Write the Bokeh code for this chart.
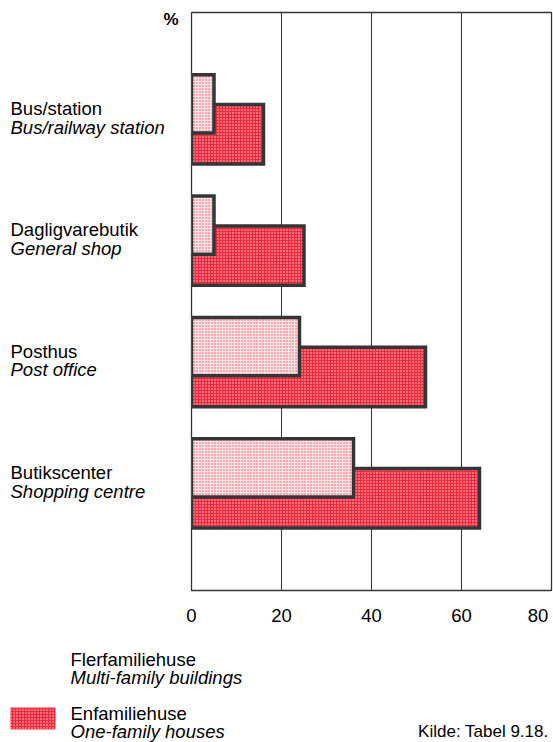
from bokeh.plotting import figure
from bokeh.layouts import column, row
from bokeh.models import Range1d, FixedTicker
from bokeh.core.properties import value
from bokeh.embed import file_html
from bokeh.resources import INLINE

# ---- data ----
categories_da = ["Bus/station", "Dagligvarebutik", "Posthus", "Butikscenter"]
categories_en = ["Bus/railway station", "General shop", "Post office", "Shopping centre"]
multi_family = [5, 5, 24, 36]     # Flerfamiliehuse
one_family = [16, 25, 52, 64]     # Enfamiliehuse
x_ticks = [0, 20, 40, 60, 80]
legend_da = ["Flerfamiliehuse", "Enfamiliehuse"]
legend_en = ["Multi-family buildings", "One-family houses"]
source_note = "Kilde: Tabel 9.18."
unit_label = "%"

# ---- layout constants ----
PX = 121.3            # pixels per category step
Y_TOP = 4.879         # data value at top of frame
Y_BOT = Y_TOP - 578 / PX
TOP_BORDER = 12
AXIS_H = 40
UPPER_H = 630
LEFT_W = 180
MAIN_W = 553 - LEFT_W
LOWER_H = 742 - UPPER_H
BL = 6.5              # baseline correction (px)

FONT = "Liberation Sans"
BORDER = "#353535"
DARK_FILL = "#ee2a3e"
DARK_DOT = "#ffd0d6"
LIGHT_FILL = "#fce4e6"
LIGHT_DOT = "#f0505e"

positions = [4 - i for i in range(len(categories_da))]
off = 15.2 / PX
dark_y = [v - off for v in positions]
light_y = [v + off for v in positions]


def panel(width, height, x_range, y_range, **borders):
    f = figure(width=width, height=height, output_backend="svg", toolbar_location=None,
               x_range=x_range, y_range=y_range, **borders)
    f.background_fill_color = "white"
    f.border_fill_color = "white"
    return f


# ---- main chart ----
p = panel(MAIN_W, UPPER_H, Range1d(0, 80), Range1d(Y_BOT, Y_TOP),
          min_border_left=11, min_border_right=2, min_border_top=TOP_BORDER,
          min_border_bottom=AXIS_H)
p.outline_line_color = BORDER
p.outline_line_width = 1.3

p.yaxis.visible = False
p.ygrid.grid_line_color = None
p.xgrid.ticker = FixedTicker(ticks=x_ticks)
p.xgrid.grid_line_color = "#3c3c3c"
p.xgrid.grid_line_width = 1.1

p.xaxis.ticker = FixedTicker(ticks=x_ticks)
p.xaxis.major_label_overrides = {80: "80\u00a0"}
p.xaxis.axis_line_color = None
p.xaxis.major_tick_line_color = None
p.xaxis.minor_tick_line_color = None
p.xaxis.major_label_text_font = FONT
p.xaxis.major_label_text_font_size = "18.5px"
p.xaxis.major_label_text_color = "black"
p.xaxis.major_label_standoff = 8

p.hbar(y=dark_y, left=0, right=one_family, height=0.49,
       fill_color=DARK_FILL, hatch_pattern="dot", hatch_color=DARK_DOT,
       hatch_scale=3, hatch_weight=1,
       line_color=BORDER, line_width=3.5, line_join="miter")
p.hbar(y=light_y, left=0, right=multi_family, height=0.48,
       fill_color=LIGHT_FILL, hatch_pattern="dot", hatch_color=LIGHT_DOT,
       hatch_scale=3, hatch_weight=1,
       line_color=BORDER, line_width=3.5, line_join="miter")

# ---- category labels (left panel, same vertical scale as main) ----
lab = panel(LEFT_W, UPPER_H, Range1d(0, LEFT_W), Range1d(Y_BOT, Y_TOP),
            min_border_left=0, min_border_right=0, min_border_top=TOP_BORDER,
            min_border_bottom=AXIS_H)
lab.axis.visible = False
lab.grid.grid_line_color = None
lab.outline_line_color = None

lab.text(x=[10] * len(positions), y=[v + (4 + BL) / PX for v in positions],
         text=categories_da, text_font=value(FONT), text_font_size="18.5px",
         text_color="black", text_baseline="alphabetic", text_align="left")
lab.text(x=[10] * len(positions), y=[v - (14.5 - BL) / PX for v in positions],
         text=categories_en, text_font=value(FONT), text_font_size="18.5px",
         text_color="black", text_font_style="italic", text_baseline="alphabetic",
         text_align="left")
lab.text(x=[163], y=[Y_TOP - (13 - BL) / PX], text=[unit_label],
         text_font=value(FONT), text_font_size="17px", text_font_style="bold",
         text_color="black", text_baseline="alphabetic", text_align="left")

# ---- legend panel (pixel coordinates, y downward) ----
leg = panel(553, LOWER_H, Range1d(0, 553), Range1d(742, UPPER_H), min_border=0)
leg.axis.visible = False
leg.grid.grid_line_color = None
leg.outline_line_color = None

leg.quad(left=[10], right=[55], top=[707], bottom=[729],
         fill_color=DARK_FILL, hatch_pattern="dot", hatch_color=DARK_DOT,
         hatch_scale=3, hatch_weight=1, line_color=None)
leg.text(x=[70, 70], y=[665 - BL, 719 - BL], text=legend_da,
         text_font=value(FONT), text_font_size="18.5px", text_color="black",
         text_baseline="alphabetic", text_align="left")
leg.text(x=[70, 70], y=[683 - BL, 737 - BL], text=legend_en,
         text_font=value(FONT), text_font_size="18.5px", text_color="black",
         text_font_style="italic", text_baseline="alphabetic", text_align="left")
leg.text(x=[548], y=[737 - BL], text=[source_note],
         text_font=value(FONT), text_font_size="17px", text_color="black",
         text_baseline="alphabetic", text_align="right")

layout = column(row(lab, p), leg)
open("out.html", "w").write(file_html(layout, INLINE))
